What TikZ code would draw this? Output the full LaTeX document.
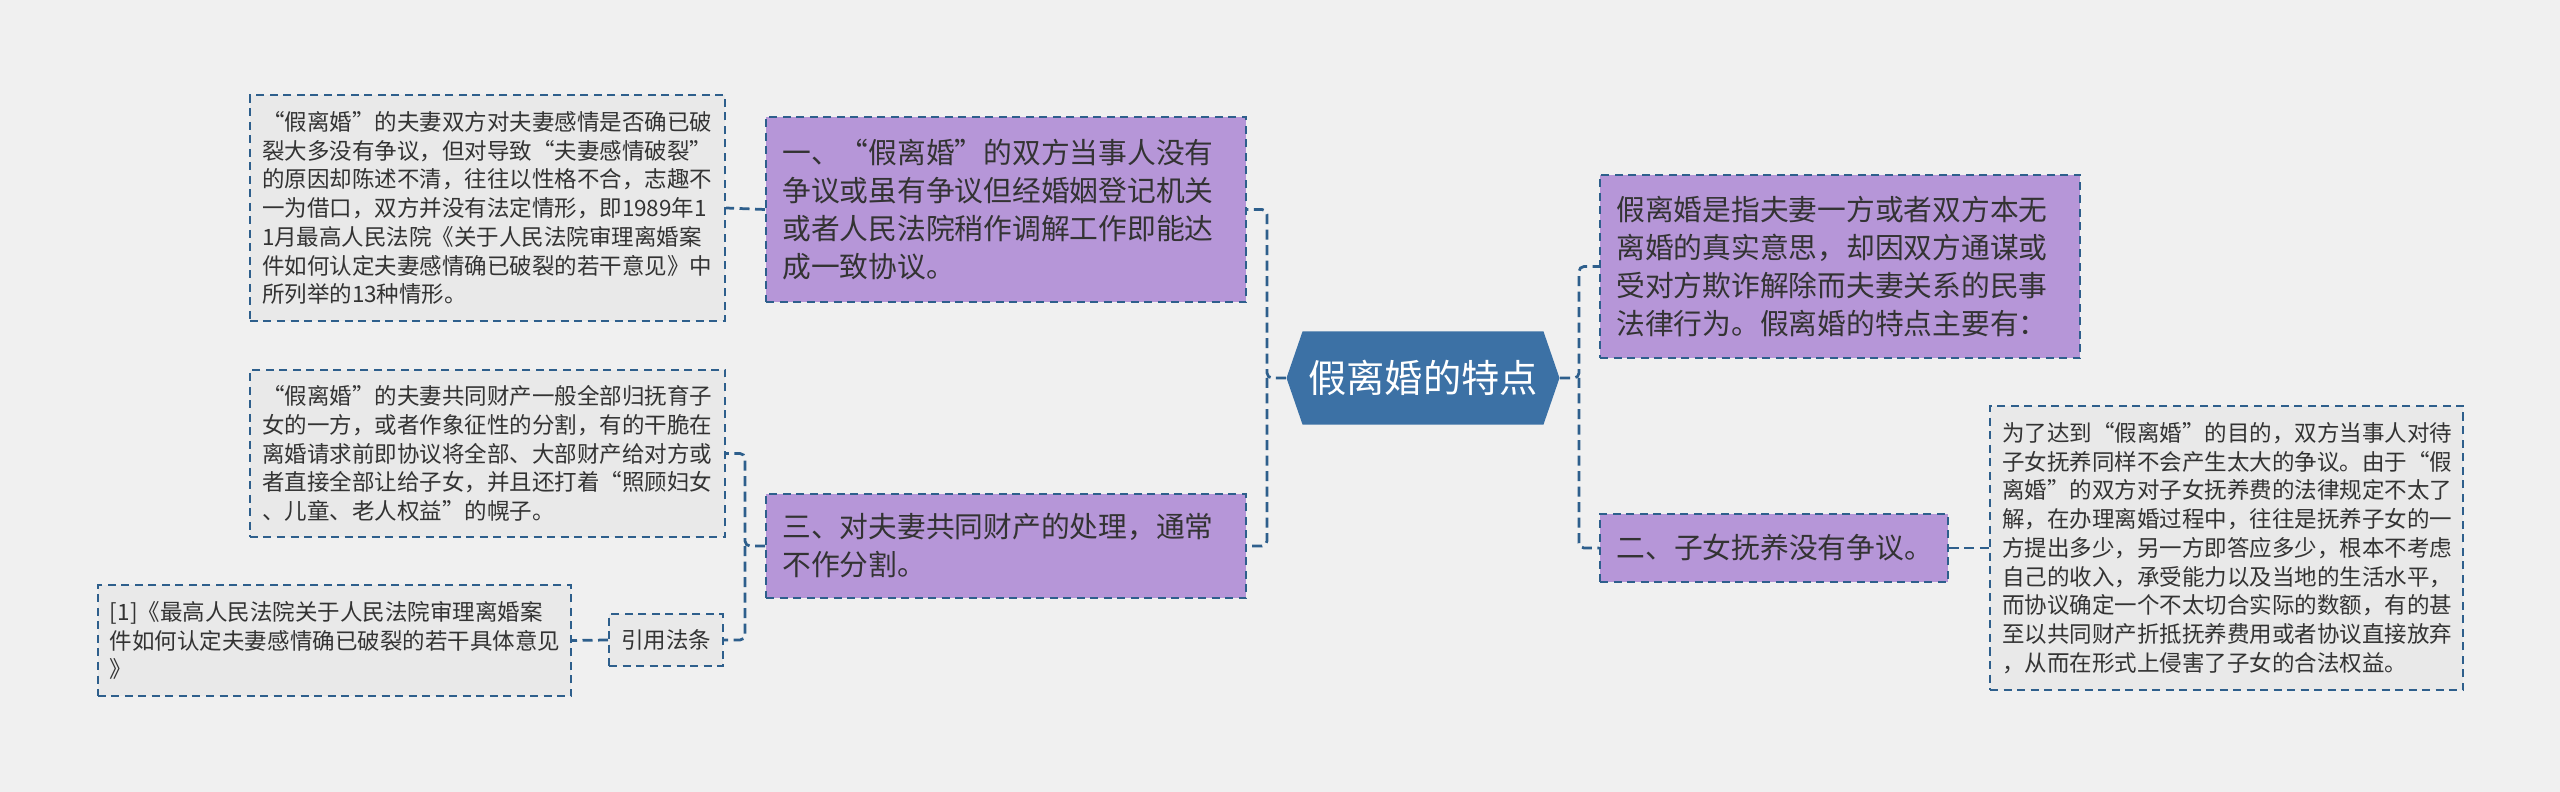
\documentclass[tikz,border=0pt]{standalone}
\usepackage{fontspec}
\setmainfont{Noto Sans CJK SC}
\usetikzlibrary{shapes.symbols}

\definecolor{bgcol}{RGB}{240,240,240}
\definecolor{notecol}{RGB}{233,233,233}
\definecolor{topiccol}{RGB}{182,150,216}
\definecolor{rootcol}{RGB}{60,113,165}
\definecolor{linecol}{RGB}{46,95,140}
\definecolor{inkcol}{RGB}{51,51,51}

\tikzset{
	x=0.4pt, y=-0.4pt,
	box/.style={draw=linecol, line width=0.8pt, dash pattern=on 3.2pt off 2.2pt,
		text=inkcol, align=left, anchor=center, inner ysep=0pt},
	note/.style={box, fill=notecol, inner xsep=4.8pt,
		font=\fontsize{9pt}{11.5pt}\selectfont},
	topic/.style={box, fill=topiccol, inner xsep=6.5pt,
		font=\fontsize{11.5pt}{15.2pt}\selectfont},
	link/.style={draw=linecol, line width=1.1pt, dash pattern=on 4pt off 2.2pt,
		rounded corners=2pt},
	rootbox/.style={signal, signal to=west and east, signal pointer angle=142,
		fill=rootcol, text=white, minimum width=109.2pt, minimum height=37.2pt,
		inner sep=0pt, font=\fontsize{15.3pt}{18pt}\selectfont}
}

\begin{document}
\begin{tikzpicture}
		% Background
		\fill[bgcol] (0,0) rectangle (2560,792);
		\useasboundingbox (0,0) rectangle (2560,792);

		% Root
		\node[rootbox] (root) at (1423,378) {假离婚的特点};

		% Topics
		\node[topic, text width=179pt, minimum height=74pt] (n1) at (1006,209.5)
			{一、“假离婚”的双方当事人没有\\争议或虽有争议但经婚姻登记机关\\或者人民法院稍作调解工作即能达\\成一致协议。};
		\node[topic, text width=179pt, minimum height=41.6pt] (n3) at (1006,546)
			{三、对夫妻共同财产的处理，通常\\不作分割。};
		\node[topic, text width=179pt, minimum height=73.2pt] (r1) at (1840,266.5)
			{假离婚是指夫妻一方或者双方本无\\离婚的真实意思，却因双方通谋或\\受对方欺诈解除而夫妻关系的民事\\法律行为。假离婚的特点主要有：};
		\node[topic, text width=126pt, minimum height=27.2pt] (r2) at (1774,548)
			{二、子女抚养没有争议。};

		% Notes
		\node[note, text width=180.4pt, minimum height=90pt] (d1) at (487.5,208)
			{“假离婚”的夫妻双方对夫妻感情是否确已破\\裂大多没有争议，但对导致“夫妻感情破裂”\\的原因却陈述不清，往往以性格不合，志趣不\\一为借口，双方并没有法定情形，即1989年1\\1月最高人民法院《关于人民法院审理离婚案\\件如何认定夫妻感情确已破裂的若干意见》中\\所列举的13种情形。};
		\node[note, text width=180.4pt, minimum height=66.8pt] (d2) at (487.5,453.5)
			{“假离婚”的夫妻共同财产一般全部归抚育子\\女的一方，或者作象征性的分割，有的干脆在\\离婚请求前即协议将全部、大部财产给对方或\\者直接全部让给子女，并且还打着“照顾妇女\\、儿童、老人权益”的幌子。};
		\node[note, text width=179.6pt, minimum height=113.6pt] (r3) at (2226.5,548)
			{为了达到“假离婚”的目的，双方当事人对待\\子女抚养同样不会产生太大的争议。由于“假\\离婚”的双方对子女抚养费的法律规定不太了\\解，在办理离婚过程中，往往是抚养子女的一\\方提出多少，另一方即答应多少，根本不考虑\\自己的收入，承受能力以及当地的生活水平，\\而协议确定一个不太切合实际的数额，有的甚\\至以共同财产折抵抚养费用或者协议直接放弃\\，从而在形式上侵害了子女的合法权益。};
		\node[note, minimum width=45.6pt, minimum height=20.8pt, align=center] (cite) at (666,640) {引用法条};
		\node[note, text width=179.6pt, minimum height=44.4pt] (ref) at (334.5,640.5)
			{[1]《最高人民法院关于人民法院审理离婚案\\件如何认定夫妻感情确已破裂的若干具体意见\\》};

		% Branch points
		\coordinate (lb) at (1267,378);
		\coordinate (rb) at (1579,378);
		\coordinate (lc) at (745,546);

		% Edges
		\draw[link] (root.west) -- (lb) |- (n1.east);
		\draw[link] (lb) |- (n3.east);
		\draw[link] (root.east) -- (rb) |- (r1.west);
		\draw[link] (rb) |- (r2.west);
		\draw[link] (r2.east) -- (r3.west);
		\draw[link] (n1.west) -- (d1.east);
		\draw[link] (n3.west) -- (lc) |- (d2.east);
		\draw[link] (lc) |- (cite.east);
		\draw[link] (cite.west) -- (ref.east);
	\end{tikzpicture}
\end{document}
